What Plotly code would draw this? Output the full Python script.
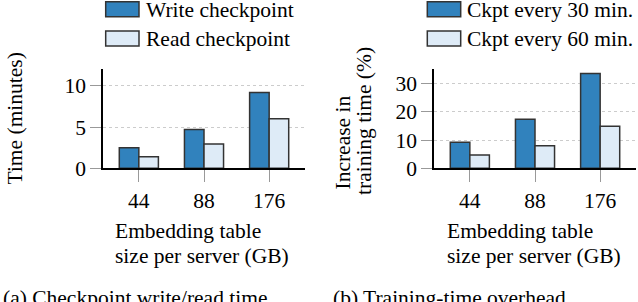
import plotly.graph_objects as go

# ---- data ----
sizes = ["44", "88", "176"]
write_ckpt = [2.5, 4.7, 9.2]
read_ckpt = [1.4, 2.95, 6.0]
ckpt_30 = [9.2, 17.3, 33.5]
ckpt_60 = [4.7, 8.0, 14.9]
left_names = ["Write checkpoint", "Read checkpoint"]
right_names = ["Ckpt every 30 min.", "Ckpt every 60 min."]
left_yticks = [0, 5, 10]
right_yticks = [0, 10, 20, 30]
xtitle_lines = ["Embedding table", "size per server (GB)"]
left_ytitle = "Time (minutes)"
right_ytitle_lines = ["Increase in", "training time (%)"]
captions = ["(a) Checkpoint write/read time", "(b) Training-time overhead"]

DARK = "#3182bd"
LIGHT = "#deebf7"
EDGE = "#333333"
FONT = "Liberation Serif"
FS = 21.5
W, H = 638, 302

def px_x(v):
    return v / W

def px_y(v):
    return 1 - v / H

fig = go.Figure()
for vals, col, ax in [(write_ckpt, DARK, "x"), (read_ckpt, LIGHT, "x"),
                      (ckpt_30, DARK, "x2"), (ckpt_60, LIGHT, "x2")]:
    fig.add_trace(go.Bar(x=sizes, y=vals, marker=dict(color=col, line=dict(color=EDGE, width=1.5)),
                         xaxis=ax, yaxis="y" if ax == "x" else "y2", showlegend=False,
                         hoverinfo="skip"))

ydom = [px_y(168.3), px_y(69.3)]
common_x = dict(type="category", range=[-0.55, 2.55], showline=True, linecolor="black", linewidth=1.5,
                ticks="outside", ticklen=12, tickcolor="#999999", tickwidth=1,
                tickfont=dict(family=FONT, size=FS, color="black"), showgrid=False, zeroline=False,
                fixedrange=True, automargin=False)
common_y = dict(showline=True, linecolor="black", linewidth=1.5, ticks="outside", ticklen=11,
                tickcolor="#999999", tickwidth=1, tickfont=dict(family=FONT, size=FS, color="black"),
                showgrid=True, gridcolor="#cccccc", griddash="dot", gridwidth=1, zeroline=False,
                fixedrange=True, automargin=False)

fig.update_layout(
    width=W, height=H, margin=dict(l=0, r=0, t=0, b=0, pad=0), autosize=False,
    paper_bgcolor="white", plot_bgcolor="white",
    barmode="group", bargap=0.4, bargroupgap=0,
    font=dict(family=FONT, size=FS, color="black"),
    xaxis=dict(domain=[px_x(103), px_x(305)], anchor="y", **common_x),
    yaxis=dict(domain=ydom, anchor="x", range=[0, 12], tickvals=left_yticks, **common_y),
    xaxis2=dict(domain=[px_x(434), px_x(636)], anchor="y2", **common_x),
    yaxis2=dict(domain=ydom, anchor="x2", range=[0, 35], tickvals=right_yticks, **common_y),
)

shapes = []
annotations = []

def text(t, x, y, xa="left", ya="middle", angle=0):
    annotations.append(dict(text=t, xref="paper", yref="paper", x=px_x(x), y=px_y(y),
                            xanchor=xa, yanchor=ya, textangle=angle, showarrow=False,
                            font=dict(family=FONT, size=FS, color="black")))

# legends (custom wide swatches)
for (names, bx0, bx1, tx) in [(left_names, 105.7, 139, 143.5), (right_names, 427.3, 460.7, 464.5)]:
    for i, (nm, col) in enumerate(zip(names, [DARK, LIGHT])):
        yc = 9.2 + 29.3 * i
        shapes.append(dict(type="rect", xref="paper", yref="paper",
                           x0=px_x(bx0), x1=px_x(bx1), y0=px_y(yc + 7.5), y1=px_y(yc - 7.5),
                           fillcolor=col, line=dict(color=EDGE, width=1.5)))
        text(nm, tx, yc + 0.5)

# axis titles
text(left_ytitle, 14.5, 119, xa="center", ya="middle", angle=-90)
text(right_ytitle_lines[0], 342.5, 192, xa="center", ya="bottom", angle=-90)
text(right_ytitle_lines[1], 364, 197, xa="center", ya="bottom", angle=-90)
for x0 in [113, 445]:
    text(xtitle_lines[0], x0, 231)
    text(xtitle_lines[1], x0, 255.5)

# captions
text(captions[0], 1, 284, ya="top")
text(captions[1], 331, 284, ya="top")

fig.update_layout(shapes=shapes, annotations=annotations)
fig.write_html("out.html", config={"displayModeBar": False},
               post_script="document.body.style.margin='0px';")
